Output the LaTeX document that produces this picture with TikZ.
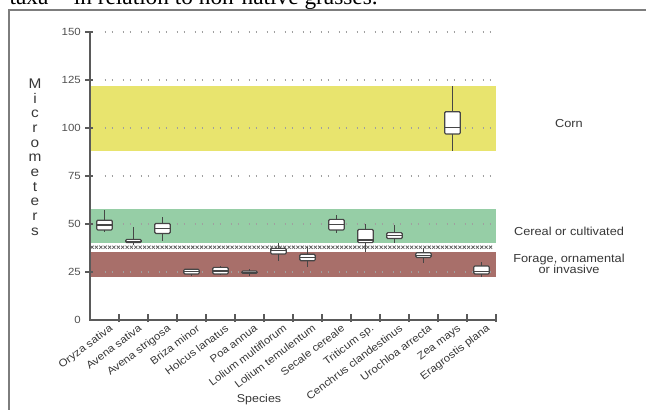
\documentclass[tikz,border=0pt]{standalone}
\usepackage{fontspec}
\usepackage{xcolor}
\usepackage{tikz}
\newfontfamily\plotfont[FakeStretch=1.1]{Liberation Sans}
\newfontfamily\capfont{Liberation Serif}

\definecolor{cornyel}{RGB}{232,228,110}
\definecolor{cerealgrn}{RGB}{150,206,166}
\definecolor{foragered}{RGB}{168,111,106}
\definecolor{axisgrey}{RGB}{90,90,90}
\definecolor{gridgrey}{RGB}{160,160,160}
\definecolor{crossgrey}{RGB}{95,95,95}
\definecolor{boxgrey}{RGB}{70,70,70}
\definecolor{txtgrey}{RGB}{55,55,55}
\definecolor{tickgrey}{RGB}{80,80,80}
\definecolor{framegrey}{RGB}{125,125,125}

\begin{document}
\begin{tikzpicture}[
  x=0.75pt, y=-0.75pt,
  every node/.style={font=\plotfont\fontsize{8.5}{10}\selectfont, text=txtgrey},
  ticklbl/.style={anchor=east, inner sep=0, text=tickgrey,
    font=\plotfont\fontsize{7.8}{9}\selectfont},
  catlbl/.style={anchor=north east, rotate=37, inner sep=0,
    font=\plotfont\fontsize{7.9}{9}\selectfont},
  sidelbl/.style={align=center, font=\plotfont\fontsize{8.7}{8.6}\selectfont},
  axisln/.style={draw=axisgrey, line width=1.1pt},
  gridln/.style={draw=gridgrey, line width=0.8pt,
    dash pattern=on 0.75pt off 4.5pt on 0.75pt off 7.5pt},
  crossmk/.style={draw=crossgrey, line width=0.55pt},
  whisk/.style={draw=boxgrey, line width=0.9pt},
  bx/.style={draw=boxgrey, fill=white, line width=0.9pt, rounded corners=0.8pt}
]
  \useasboundingbox (0,0) rectangle (646,410);

  % caption cut off by the page
  \begin{scope}
    \clip (0,0) rectangle (646,410);
    \node[font=\capfont\fontsize{17.5}{20}\selectfont, text=black,
      anchor=base east, inner sep=0] (caption) at (378,4.5)
      {taxa\textsuperscript{a}\hspace{0.5em} in relation to non-native grasses.};
  \end{scope}
  \draw[framegrey, line width=1pt] (9,410) -- (9,10) -- (646,10);

  \begin{scope}[shift={(90,320)}, x=21.75pt, y=1.44pt]
    % bands
    \fill[cornyel] (0,88) rectangle (14,122);
    \fill[cerealgrn] (0,40.3) rectangle (14,57.6);
    \fill[foragered] (0,22.2) rectangle (14,35.6);
    \foreach \k in {0,...,91}
      \draw[crossmk] ({0.07+\k*0.151},37.9) ++(-1.15pt,-1.15pt) -- ++(2.3pt,2.3pt)
        ++(0,-2.3pt) -- ++(-2.3pt,2.3pt);

    % grid and axes
    \foreach \v in {25,50,...,150}
      \draw[gridln] (0.5,\v) -- (14,\v);
    \draw[axisln] (0,150) -- (0,0) -- (14,0);
    \foreach \v in {25,50,...,150}
      \draw[axisln] (0,\v) ++(-3.75pt,0) -- ++(6pt,0);
    \foreach \i in {1,...,14}
      \draw[axisln] (\i,0) ++(0,-1.5pt) -- ++(0,6pt);
    \foreach \v in {0,25,...,150}
      \node[ticklbl, xshift=-6.75pt] (tick\v) at (0,\v) {\v};

    % boxes: centre / low / q1 / median / q3 / high
    \foreach \cx/\lo/\qa/\md/\qb/\hi in {
        0.5/46/46.9/49.5/52/57.3, 1.5/39/40.3/41/42/48.6,
        2.5/41.3/45.1/47.5/50.3/53.5, 3.5/22.9/24/25.2/26.4/26.4,
        4.5/23.5/24/25.5/27.4/28, 5.5/23/24.3/24.9/25.5/26.7,
        6.5/30.9/34.4/36/37.3/40.3, 7.5/27.8/30.9/32.5/34.2/37.8,
        8.5/45.5/46.9/49.6/52.4/54.7, 9.5/35.6/40.3/41.7/47.2/50,
        10.5/40.3/42.4/43.9/45.5/49.5, 11.5/29.9/32.6/33.8/35/37.3,
        12.5/88.2/96.9/100.2/108.5/121.9, 13.5/22.6/24/25.2/28.1/30.4} {
      \draw[whisk] (\cx,\lo) -- (\cx,\hi);
      \draw[bx] (\cx-0.267,\qa) rectangle (\cx+0.267,\qb);
      \draw[whisk] (\cx-0.267,\md) -- (\cx+0.267,\md);
    }

    % species names
    \foreach \name [count=\i] in {Oryza sativa, Avena sativa, Avena strigosa,
        Briza minor, Holcus lanatus, Poa annua, Lolium multiflorum,
        Lolium temulentum, Secale cereale, Triticum sp.,
        Cenchrus clandestinus, Urochloa arrecta, Zea mays, Eragrostis plana}
      \node[catlbl] (sp\i) at (\i-0.35,-1.8) {\name};
  \end{scope}

  \node[align=center, font=\plotfont\fontsize{10.5}{11}\selectfont] (ytitle) at (35,157)
    {M\\i\\c\\r\\o\\m\\e\\t\\e\\r\\s};
  \node (xtitle) at (259,400) {Species};
  \node[sidelbl] (corn) at (569,124) {Corn};
  \node[sidelbl] (cereal) at (569,231) {Cereal or cultivated};
  \node[sidelbl] (forage) at (569,264) {Forage, ornamental\\or invasive};
\end{tikzpicture}
\end{document}
